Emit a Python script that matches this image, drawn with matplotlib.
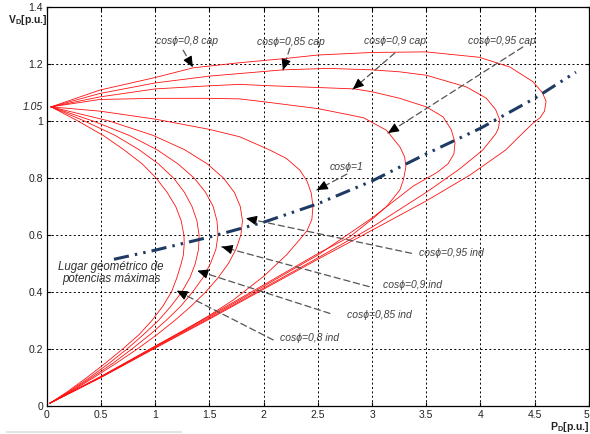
"""
plot.py

curvas pv (nariz) para distintos factores de potencia y lugar geometrico
de potencias maximas
"""

import numpy as np
import matplotlib
matplotlib.use("Agg")
import matplotlib.pyplot as plt

# curves: (P_D, V_D) from the start at 1.05 pu,
# along the upper branch to the nose and back down the lower branch

# cos phi = 0.8 cap
p_cap80 = [0.04, 0.49, 1.0, 1.35, 1.78, 2.18, 2.5, 3.0, 3.5, 3.99, 4.27, 4.485,
           4.57, 4.605, 4.59, 4.55, 4.485, 4.40, 4.23, 3.9, 3.5, 3.0, 2.5, 2.0,
           1.5, 1.0, 0.5, 0.03]
v_cap80 = [1.05, 1.109, 1.153, 1.187, 1.205, 1.219, 1.232, 1.241, 1.243, 1.224,
           1.19, 1.138, 1.10, 1.07, 1.035, 1.012, 0.993, 0.962, 0.898, 0.81,
           0.72, 0.617, 0.515, 0.41, 0.305, 0.203, 0.1, 0.01]

# cos phi = 0.85 cap
p_cap85 = [0.04, 0.49, 1.0, 1.5, 1.78, 2.18, 2.6, 3.0, 3.256, 3.5, 3.87, 4.055,
           4.14, 4.178, 4.165, 4.14, 4.02, 3.8, 3.5, 3.0, 2.5, 2.0, 1.5, 1.0,
           0.5, 0.03]
v_cap85 = [1.05, 1.097, 1.134, 1.158, 1.167, 1.18, 1.185, 1.18, 1.173, 1.161,
           1.12, 1.08, 1.04, 1.004, 0.975, 0.955, 0.898, 0.83, 0.75, 0.628,
           0.52, 0.414, 0.308, 0.205, 0.101, 0.01]

# cos phi = 0.9 cap
p_cap90 = [0.04, 0.49, 1.0, 1.5, 1.78, 2.0, 2.5, 2.84, 3.0, 3.256, 3.5, 3.655,
           3.73, 3.765, 3.755, 3.70, 3.6, 3.38, 3.0, 2.5, 2.0, 1.5, 1.0, 0.5,
           0.03]
v_cap90 = [1.05, 1.085, 1.113, 1.124, 1.129, 1.125, 1.118, 1.113, 1.103, 1.08,
           1.05, 1.015, 0.97, 0.925, 0.885, 0.85, 0.82, 0.772, 0.66, 0.53, 0.42,
           0.312, 0.207, 0.102, 0.01]

# cos phi = 0.95 cap
p_cap95 = [0.04, 0.49, 1.0, 1.5, 1.78, 2.0, 2.5, 2.92, 3.133, 3.256, 3.30,
           3.312, 3.29, 3.256, 3.133, 3.01, 2.795, 2.5, 2.0, 1.5, 1.0, 0.5,
           0.03]
v_cap95 = [1.05, 1.076, 1.08, 1.08, 1.078, 1.068, 1.044, 1.012, 0.968, 0.91,
           0.875, 0.84, 0.795, 0.758, 0.70, 0.659, 0.594, 0.535, 0.425, 0.316,
           0.21, 0.104, 0.01]

# cos phi = 1
p_uni = [0.04, 0.49, 1.0, 1.5, 1.78, 2.06, 2.21, 2.334, 2.40, 2.44, 2.455,
         2.445, 2.40, 2.334, 2.21, 2.0, 1.72, 1.5, 1.25, 1.0, 0.75, 0.5, 0.25,
         0.03]
v_uni = [1.05, 1.035, 1.007, 0.971, 0.945, 0.898, 0.869, 0.828, 0.79, 0.746,
         0.70, 0.655, 0.615, 0.585, 0.53, 0.455, 0.372, 0.318, 0.262, 0.21,
         0.156, 0.103, 0.053, 0.01]

# cos phi = 0.95 ind
p_ind95 = [0.04, 0.58, 0.98, 1.27, 1.48, 1.63, 1.73, 1.785, 1.805, 1.79, 1.745,
           1.675, 1.58, 1.465, 1.33, 1.18, 1.015, 0.835, 0.64, 0.435, 0.22,
           0.03]
v_ind95 = [1.05, 1.0, 0.95, 0.9, 0.85, 0.8, 0.75, 0.7, 0.65, 0.6, 0.55, 0.5,
           0.45, 0.4, 0.35, 0.3, 0.25, 0.2, 0.15, 0.1, 0.05, 0.01]

# cos phi = 0.9 ind
p_ind90 = [0.04, 0.43, 0.76, 1.015, 1.21, 1.36, 1.465, 1.535, 1.57, 1.58, 1.56,
           1.51, 1.44, 1.345, 1.235, 1.10, 0.95, 0.785, 0.61, 0.415, 0.21, 0.03]
v_ind90 = [1.05, 1.0, 0.95, 0.9, 0.85, 0.8, 0.75, 0.7, 0.65, 0.6, 0.55, 0.5,
           0.45, 0.4, 0.35, 0.3, 0.25, 0.2, 0.15, 0.1, 0.05, 0.01]

# cos phi = 0.85 ind
p_ind85 = [0.04, 0.35, 0.63, 0.85, 1.03, 1.17, 1.27, 1.34, 1.385, 1.405, 1.40,
           1.37, 1.32, 1.245, 1.145, 1.03, 0.89, 0.74, 0.575, 0.395, 0.2, 0.03]
v_ind85 = [1.05, 1.0, 0.95, 0.9, 0.85, 0.8, 0.75, 0.7, 0.65, 0.6, 0.55, 0.5,
           0.45, 0.4, 0.35, 0.3, 0.25, 0.2, 0.15, 0.1, 0.05, 0.01]

# cos phi = 0.8 ind
p_ind80 = [0.04, 0.29, 0.52, 0.71, 0.88, 1.01, 1.11, 1.19, 1.24, 1.265, 1.268,
           1.26, 1.24, 1.2, 1.15, 1.07, 0.97, 0.85, 0.7, 0.54, 0.37, 0.19, 0.03]
v_ind80 = [1.05, 1.0, 0.95, 0.9, 0.85, 0.8, 0.75, 0.7, 0.65, 0.6, 0.57, 0.53,
           0.5, 0.45, 0.4, 0.35, 0.3, 0.25, 0.2, 0.15, 0.1, 0.05, 0.01]

# lugar geometrico de potencias maximas
p_locus = [0.62, 1.0, 1.5, 2.0, 2.5, 3.0, 3.5, 4.0, 4.5, 4.88]
v_locus = [0.515, 0.547, 0.593, 0.645, 0.71, 0.79, 0.885, 0.975, 1.08, 1.172]

x_ticks = [0, 0.5, 1, 1.5, 2, 2.5, 3, 3.5, 4, 4.5, 5]
x_labels = ["0", "0.5", "1", "1.5", "2", "2.5", "3", "3.5", "4", "4.5", "5"]
y_ticks = [0, 0.2, 0.4, 0.6, 0.8, 1.0, 1.2, 1.4]
y_labels = ["0", "0.2", "0.4", "0.6", "0.8", "1", "1.2", "1.4"]

# labels: text, text position, arrow tail, arrow tip
cap_labels = ["cos\u03d5=0,8 cap", "cos\u03d5=0,85 cap", "cos\u03d5=0,9 cap",
              "cos\u03d5=0,95 cap", "cos\u03d5=1"]
cap_text_xy = [(1.293, 1.281), (2.252, 1.277), (3.21, 1.281), (4.196, 1.281),
               (2.768, 0.839)]
cap_tail = [(1.258, 1.249), (2.242, 1.256), (3.21, 1.239), (4.39, 1.26),
            (2.768, 0.814)]
cap_tip = [(1.348, 1.189), (2.178, 1.179), (2.823, 1.112), (3.146, 0.958),
           (2.49, 0.758)]

ind_labels = ["cos\u03d5=0,95 ind", "cos\u03d5=0,9 ind", "cos\u03d5=0,85 ind",
              "cos\u03d5=0,8 ind"]
ind_text_xy = [(3.431, 0.537), (3.10, 0.425), (2.768, 0.319), (2.15, 0.239)]
ind_tail = [(3.364, 0.536), (2.973, 0.419), (2.611, 0.325), (2.088, 0.232)]
ind_tip = [(1.837, 0.659), (1.613, 0.559), (1.388, 0.475), (1.198, 0.405)]


# dashed grey shaft plus a small solid black head at the tip
def draw_arrow(ax, tail, tip):
    ax.annotate("", xy=tip, xytext=tail,
                arrowprops=dict(arrowstyle="-", color="#555555", lw=0.9,
                                linestyle=(0, (5, 3)), shrinkA=0, shrinkB=0))
    a = ax.transData.transform(tip)
    b = ax.transData.transform(tail)
    d = b - a
    start = a + d / np.hypot(d[0], d[1]) * 8
    start = ax.transData.inverted().transform(start)
    ax.annotate("", xy=tip, xytext=start,
                arrowprops=dict(arrowstyle="-|>,head_length=0.5,head_width=0.22",
                                color="black", lw=0.8, mutation_scale=13,
                                shrinkA=0, shrinkB=0))


if __name__ == '__main__':
    plt.rcParams['font.family'] = ['Liberation Sans', 'DejaVu Sans']
    plt.rcParams['mathtext.fontset'] = 'custom'
    plt.rcParams['mathtext.rm'] = 'Liberation Sans'
    plt.rcParams['mathtext.bf'] = 'Liberation Sans:bold'

    fig = plt.figure(figsize=(5.9, 4.34), dpi=100)
    ax = fig.add_axes([0.0792, 0.0645, 0.919, 0.919])

    curves = [(p_cap80, v_cap80), (p_cap85, v_cap85), (p_cap90, v_cap90),
              (p_cap95, v_cap95), (p_uni, v_uni), (p_ind95, v_ind95),
              (p_ind90, v_ind90), (p_ind85, v_ind85), (p_ind80, v_ind80)]
    for p, v in curves:
        ax.plot(p, v, color="#ff1010", lw=0.6, zorder=3)

    ax.plot(p_locus, v_locus, color="#1f3b63", lw=2.2,
            dashes=(5, 2, 0.8, 2, 0.8, 2), zorder=4)

    ax.set_xlim(0, 5)
    ax.set_ylim(0, 1.4)
    ax.set_xticks(x_ticks)
    ax.set_xticklabels(x_labels)
    ax.set_yticks(y_ticks)
    ax.set_yticklabels(y_labels)
    ax.tick_params(direction="in", length=3, top=True, right=True,
                   labelsize=7.5, pad=2.7, labelcolor="#222222")
    # last x label sits right at the figure edge
    ax.get_xticklabels()[-1].set_horizontalalignment("right")
    ax.grid(True, color="black", lw=0.7, linestyle=(0, (2, 2.5)))
    for s in ax.spines.values():
        s.set_linewidth(0.9)

    # extra italic label for the source voltage
    ax.annotate("1.05", xy=(0, 1.05), xycoords=("axes fraction", "data"),
                xytext=(-2.7, 0), textcoords="offset points", ha="right",
                va="center", fontsize=7.5, style="italic", color="#222222")

    for i in range(len(cap_labels)):
        ax.text(cap_text_xy[i][0], cap_text_xy[i][1], cap_labels[i],
                ha="center", va="center", fontsize=7.5, style="italic",
                color="#404040", zorder=5)
        draw_arrow(ax, cap_tail[i], cap_tip[i])
    for i in range(len(ind_labels)):
        ax.text(ind_text_xy[i][0], ind_text_xy[i][1], ind_labels[i],
                ha="left", va="center", fontsize=7.5, style="italic",
                color="#404040", zorder=5)
        draw_arrow(ax, ind_tail[i], ind_tip[i])

    ax.text(0.593, 0.467, "Lugar geom\u00e9trico de\npotencias m\u00e1ximas",
            ha="center", va="center", fontsize=8.3, style="italic",
            color="#303030", linespacing=1.05, zorder=5)

    fig.text(8 / 590, 1 - 20 / 434, r"$\mathbf{V_D}$[p.u.]", ha="left",
             va="center", fontsize=7.5, fontweight="bold", color="#222222")
    fig.text(589 / 590, 1 - 427 / 434, r"$\mathbf{P_D}$[p.u.]", ha="right",
             va="center", fontsize=7.5, fontweight="bold", color="#222222")

    # faint line at the bottom left of the original screenshot
    fig.add_artist(plt.Line2D([7 / 590, 181 / 590], [1 - 432 / 434] * 2,
                              color="#e4e4e4", lw=1.5))

    plt.savefig("out.png", dpi=100)
